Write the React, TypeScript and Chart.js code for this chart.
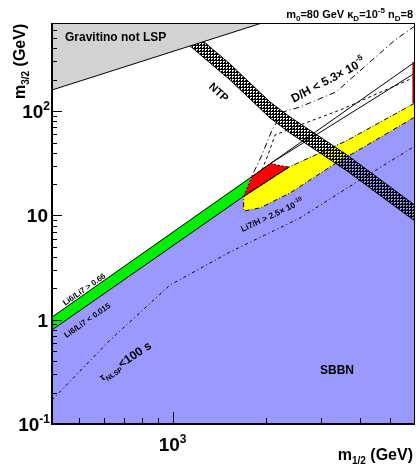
import React, { useEffect, useRef } from "react";
import { Chart, registerables } from "chart.js";

Chart.register(...registerables);

type P = [number, number];

// ---- axes ----
const X_RANGE: P = [410, 6000];
const Y_RANGE: P = [0.1, 700];
const X_MAJOR_TICKS = [1000];
const X_MINOR_TICKS = [500, 600, 700, 800, 900, 2000, 3000, 4000, 5000];
const Y_MAJOR_TICKS = [0.1, 1, 10, 100];
const Y_MINOR_TICKS = [0.2, 0.3, 0.4, 0.5, 0.6, 0.7, 0.8, 0.9, 2, 3, 4, 5, 6, 7, 8, 9, 20, 30, 40, 50, 60, 70, 80, 90, 200, 300, 400, 500, 600];
const Y_TICK_LABELS = [
  { value: 0.1, base: "10", sup: "-1" },
  { value: 1, base: "1", sup: "" },
  { value: 10, base: "10", sup: "" },
  { value: 100, base: "10", sup: "2" },
];
const X_TICK_LABELS = [{ value: 1000, base: "10", sup: "3" }];

// ---- regions (m1/2 GeV, m3/2 GeV) ----
const SBBN_REGION: P[] = [[410, 0.797], [1690, 15.2], [1690, 11.0], [1908, 11.8], [2382, 16.4], [3273, 30.4], [6000, 87.9], [6000, 0.1], [410, 0.1]];
const LI7_REGION: P[] = [[1690, 15.2], [2364, 29.1], [3604, 51.7], [6000, 119.7], [6000, 87.9], [3273, 30.4], [2382, 16.4], [1908, 11.8], [1690, 11.0], [1690, 15.2]];
const LI6_REGION: P[] = [[410, 1.06], [1798, 23.6], [1690, 15.2], [410, 0.797]];
const RED_REGION: P[] = [[1690, 15.2], [1798, 23.6], [2070, 31.8], [2163, 30.4], [2364, 29.1], [1690, 15.2]];
const GRAVITINO_REGION: P[] = [[410, 159.5], [1936, 700], [410, 700]];
const NTP_UPPER: P[] = [[1080, 685], [1529, 283], [2055, 122.4], [2382, 87.9], [3631, 38.0], [6045, 12.3]];
const NTP_LOWER: P[] = [[1080, 481], [1529, 199], [2055, 86.0], [2382, 61.7], [3631, 26.7], [6045, 8.65]];

// ---- curves ----
const LI6_HIGH: P[] = [[410, 1.06], [6000, 296]];
const LI6_LOW: P[] = [[410, 0.797], [1690, 15.2], [2364, 29.1]];
const RED_EDGE_LINE: P[] = [[2070, 31.8], [6000, 232]];
const DH_DASHDOT: P[] = [[6000, 655], [5176, 481], [4302, 296], [3346, 152.6], [2564, 109.6], [2261, 98.1], [2085, 65.9], [1936, 38.0], [1798, 23.9]];
const DH_DASHED: P[] = [[6000, 212], [3447, 102.5], [2564, 73.6], [2132, 59.1], [2024, 38.0], [1936, 27.3]];
const TAU_100S: P[] = [[410, 0.17], [630, 0.639], [981, 2.15], [1529, 4.46], [2564, 9.45], [3996, 21.9], [6000, 46.3]];
const GRAVITINO_EDGE: P[] = [[410, 159.5], [1936, 700]];
const RIGHT_RED_EDGE: P[] = [[5930, 296], [5930, 119.7]];

const FONT = "'Liberation Sans', Arial, Helvetica, sans-serif";

type Run = { t: string; size: number; dy?: number };

function runsWidth(ctx: CanvasRenderingContext2D, runs: Run[]) {
  let w = 0;
  for (const r of runs) {
    ctx.font = `bold ${r.size}px ${FONT}`;
    w += ctx.measureText(r.t).width;
  }
  return w;
}

function drawRuns(ctx: CanvasRenderingContext2D, runs: Run[], x: number, y: number, align: "left" | "center" | "right", angle = 0) {
  ctx.save();
  ctx.translate(x, y);
  ctx.rotate((angle * Math.PI) / 180);
  const w = runsWidth(ctx, runs);
  let cx = align === "left" ? 0 : align === "center" ? -w / 2 : -w;
  ctx.fillStyle = "#000";
  ctx.textAlign = "left";
  ctx.textBaseline = "alphabetic";
  for (const r of runs) {
    ctx.font = `bold ${r.size}px ${FONT}`;
    ctx.fillText(r.t, cx, r.dy || 0);
    cx += ctx.measureText(r.t).width;
  }
  ctx.restore();
}

const pts = (a: P[]) => a.map(([x, y]) => ({ x, y }));

function area(data: P[], fillColor: any, border?: { color: string; width: number; dash?: number[] }) {
  return {
    data: pts(data),
    fill: "shape",
    backgroundColor: fillColor,
    borderColor: border ? border.color : "rgba(0,0,0,0)",
    borderWidth: border ? border.width : 0,
    borderDash: border && border.dash ? border.dash : [],
    pointRadius: 0,
    pointHoverRadius: 0,
    tension: 0,
  };
}

function curve(data: P[], color: string, width: number, dash: number[] = []) {
  return {
    data: pts(data),
    fill: false,
    borderColor: color,
    backgroundColor: color,
    borderWidth: width,
    borderDash: dash,
    pointRadius: 0,
    pointHoverRadius: 0,
    tension: 0,
  };
}

const overlayPlugin = {
  id: "overlay",
  afterDraw(chart: any) {
    const { ctx, chartArea: a, scales } = chart;
    const xs = scales.x;
    const ys = scales.y;
    ctx.save();
    ctx.setLineDash([]);
    ctx.strokeStyle = "#000";
    // frame
    ctx.lineWidth = 1;
    ctx.beginPath();
    ctx.moveTo(a.left, a.top + 0.5);
    ctx.lineTo(a.right, a.top + 0.5);
    ctx.moveTo(a.right - 0.5, a.top);
    ctx.lineTo(a.right - 0.5, a.bottom);
    ctx.stroke();
    ctx.lineWidth = 2;
    ctx.beginPath();
    ctx.moveTo(a.left, a.top);
    ctx.lineTo(a.left, a.bottom);
    ctx.lineTo(a.right, a.bottom);
    ctx.stroke();
    // ticks (inside)
    ctx.lineWidth = 1;
    ctx.beginPath();
    for (const v of Y_MAJOR_TICKS) {
      const p = Math.round(ys.getPixelForValue(v)) + 0.5;
      ctx.moveTo(a.left, p);
      ctx.lineTo(a.left + 10, p);
    }
    for (const v of Y_MINOR_TICKS) {
      const p = Math.round(ys.getPixelForValue(v)) + 0.5;
      ctx.moveTo(a.left, p);
      ctx.lineTo(a.left + 5, p);
    }
    for (const v of X_MAJOR_TICKS) {
      const p = Math.round(xs.getPixelForValue(v)) + 0.5;
      ctx.moveTo(p, a.bottom);
      ctx.lineTo(p, a.bottom - 12);
    }
    for (const v of X_MINOR_TICKS) {
      const p = Math.round(xs.getPixelForValue(v)) + 0.5;
      ctx.moveTo(p, a.bottom);
      ctx.lineTo(p, a.bottom - 6);
    }
    ctx.stroke();

    // tick labels
    for (const l of Y_TICK_LABELS) {
      const py = ys.getPixelForValue(l.value);
      const runs: Run[] = [{ t: l.base, size: 19, dy: 0 }];
      if (l.sup) runs.push({ t: l.sup, size: 12, dy: -8 });
      drawRuns(ctx, runs, l.sup ? 50 : 48, py + 7, "right");
    }
    for (const l of X_TICK_LABELS) {
      const px = xs.getPixelForValue(l.value);
      const runs: Run[] = [{ t: l.base, size: 19 }, { t: l.sup, size: 12, dy: -8 }];
      drawRuns(ctx, runs, px, 451, "center");
    }

    // axis titles
    drawRuns(ctx, [{ t: "m", size: 16 }, { t: "1/2", size: 10, dy: 4 }, { t: " (GeV)", size: 16 }], 413, 460, "right");
    drawRuns(ctx, [{ t: "m", size: 16 }, { t: "3/2", size: 10, dy: 4 }, { t: " (GeV)", size: 16 }], 25, 99, "left", -90);

    // header
    drawRuns(
      ctx,
      [
        { t: "m", size: 11 }, { t: "0", size: 8, dy: 3 }, { t: "=80 GeV \u03ba", size: 11 }, { t: "D", size: 8, dy: 3 },
        { t: "=10", size: 11 }, { t: "-5", size: 8, dy: -5 }, { t: " n", size: 11 }, { t: "D", size: 8, dy: 3 }, { t: "=8", size: 11 },
      ],
      413, 18, "right"
    );

    // annotations
    drawRuns(ctx, [{ t: "Gravitino not LSP", size: 12 }], 65, 41, "left");
    drawRuns(ctx, [{ t: "NTP", size: 11, dy: 4 }], 219, 92, "center", 42);
    drawRuns(ctx, [{ t: "D/H < 5.3\u00d7 10", size: 12, dy: 4 }, { t: "-5", size: 8, dy: -2 }], 328, 80, "center", -28);
    drawRuns(ctx, [{ t: "Li6/Li7 > 0.66", size: 8, dy: 3 }], 84, 289, "center", -35);
    drawRuns(ctx, [{ t: "Li6/Li7 < 0.015", size: 8, dy: 3 }], 87, 320, "center", -35);
    drawRuns(ctx, [{ t: "\u03c4", size: 10, dy: 4 }, { t: "NLSP", size: 7, dy: 7 }, { t: "<100 s", size: 12, dy: 4 }], 125, 361, "center", -34);
    drawRuns(ctx, [{ t: "Li7/H > 2.5\u00d7 10", size: 8.5, dy: 3 }, { t: "-10", size: 6, dy: -1 }], 272, 215, "center", -25);
    drawRuns(ctx, [{ t: "SBBN", size: 12, dy: 4 }], 337, 370, "center");
    ctx.restore();
  },
};

export default function App() {
  const canvasRef = useRef<HTMLCanvasElement | null>(null);

  useEffect(() => {
    const canvas = canvasRef.current;
    if (!canvas) return;
    const cctx = canvas.getContext("2d");
    const tile = document.createElement("canvas");
    tile.width = 3;
    tile.height = 3;
    const tctx = tile.getContext("2d")!;
    tctx.fillStyle = "#000";
    tctx.fillRect(0, 0, 3, 3);
    tctx.clearRect(1, 1, 2, 1);
    tctx.clearRect(1, 2, 1, 1);
    const hatch = cctx!.createPattern(tile, "repeat");

    const ntpBand: P[] = [...NTP_UPPER, ...NTP_LOWER.slice().reverse(), NTP_UPPER[0]];

    const layers: any[] = [
      area(SBBN_REGION, "#9999ff"),
      area(LI7_REGION, "#ffff00", { color: "#000", width: 1, dash: [5, 2, 1, 2] }),
      area(LI6_REGION, "#00ee00"),
      area(RED_REGION, "#ff0000", { color: "#000", width: 1, dash: [2, 2] }),
      curve(TAU_100S, "#000", 1, [3, 3, 1, 3]),
      curve(LI6_HIGH, "#000", 1),
      curve(LI6_LOW, "#000", 1),
      curve(RED_EDGE_LINE, "#000", 1),
      curve(DH_DASHDOT, "#000", 1, [6, 3, 1, 3]),
      curve(DH_DASHED, "#000", 1, [3, 3]),
      area(ntpBand, hatch, { color: "#000", width: 1 }),
      area(GRAVITINO_REGION, "#d2d2d2"),
      curve(GRAVITINO_EDGE, "#000", 1),
      curve(RIGHT_RED_EDGE, "#a00000", 2),
    ];
    const datasets = layers.map((d, i) => ({ ...d, order: layers.length - i }));

    const chart = new Chart(canvas, {
      type: "line",
      data: { datasets },
      options: {
        animation: false,
        responsive: false,
        devicePixelRatio: 1,
        events: [],
        layout: { padding: { top: 23, right: 1, left: 0, bottom: 0 } },
        plugins: { legend: { display: false }, tooltip: { enabled: false } },
        scales: {
          x: {
            type: "logarithmic",
            min: X_RANGE[0],
            max: X_RANGE[1],
            ticks: { display: false },
            grid: { display: false },
            border: { display: false },
            afterFit: (s: any) => {
              s.height = 43;
            },
          },
          y: {
            type: "logarithmic",
            min: Y_RANGE[0],
            max: Y_RANGE[1],
            ticks: { display: false },
            grid: { display: false },
            border: { display: false },
            afterFit: (s: any) => {
              s.width = 52;
            },
          },
        },
      } as any,
      plugins: [overlayPlugin],
    });
    return () => chart.destroy();
  }, []);

  return (
    <div style={{ position: "absolute", left: 0, top: 0, width: 416, height: 467, background: "#fff" }}>
      <canvas ref={canvasRef} width={416} height={467} style={{ display: "block", width: 416, height: 467 }} />
    </div>
  );
}
